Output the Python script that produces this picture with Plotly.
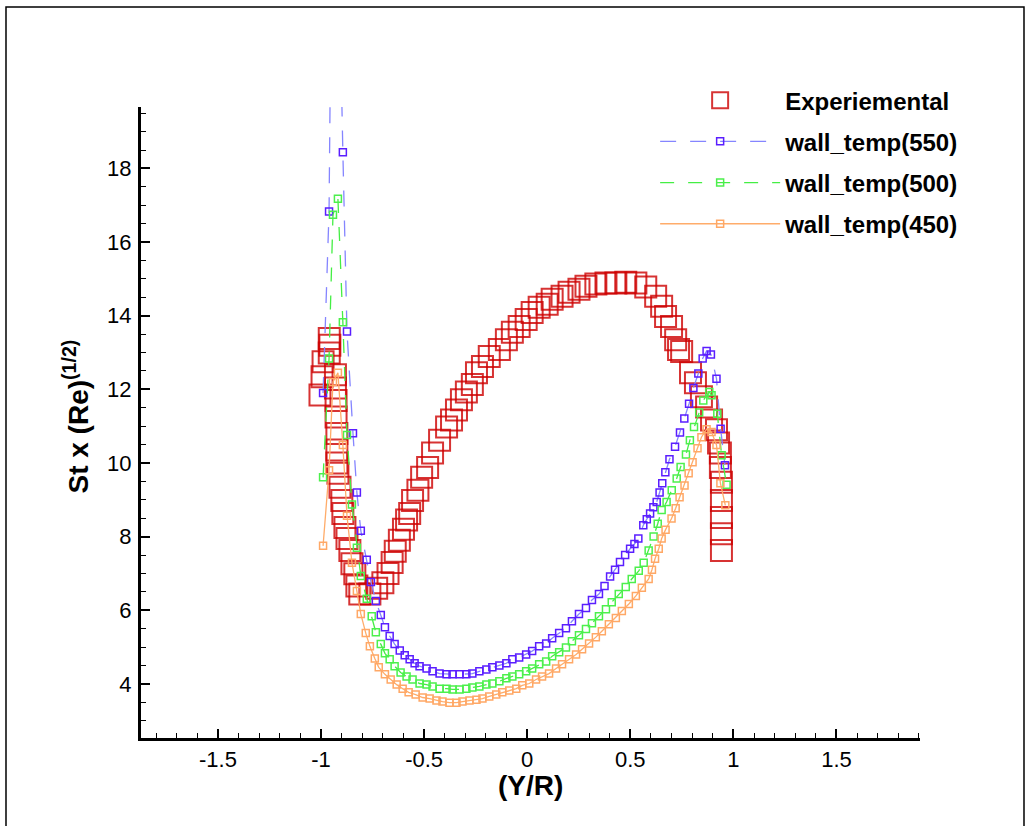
import plotly.graph_objects as go

# ---------------- data ----------------
exp_x = [-0.96, -0.957, -0.96, -0.99, -0.995, -1.005, -0.93, -0.93, -0.927, -0.927, -0.923, -0.923,
         -0.923, -0.918, -0.908, -0.899, -0.894, -0.884, -0.874, -0.86, -0.85, -0.836, -0.826, -0.812,
         -0.763, -0.73, -0.70, -0.675, -0.655, -0.64, -0.62, -0.60, -0.585, -0.57, -0.556, -0.53, -0.512,
         -0.483, -0.459, -0.425, -0.391, -0.367, -0.343, -0.319, -0.295, -0.266, -0.246, -0.217, -0.184,
         -0.135, -0.101, -0.072, -0.039, -0.005, 0.024, 0.058, 0.097, 0.121, 0.169, 0.203, 0.251, 0.285,
         0.333, 0.382, 0.43, 0.478, 0.527, 0.575, 0.623, 0.652, 0.671, 0.70, 0.72, 0.734, 0.749, 0.792,
         0.816, 0.845, 0.87, 0.894, 0.918, 0.928, 0.937, 0.937, 0.942, 0.942, 0.942, 0.942, 0.942]
exp_y = [13.38, 13.2, 12.99, 12.75, 12.34, 11.85, 12.4, 12.04, 11.7, 11.25, 10.8, 10.35,
         10.0, 9.72, 9.34, 8.98, 8.63, 8.25, 7.95, 7.62, 7.26, 6.99, 6.66, 6.44,
         6.44, 6.6, 6.75, 7.0, 7.3, 7.6, 7.9, 8.2, 8.45, 8.63, 8.98, 9.26, 9.61,
         9.88, 10.27, 10.62, 10.98, 11.17, 11.44, 11.72, 11.93, 12.13, 12.45, 12.62, 12.89,
         13.08, 13.35, 13.55, 13.71, 13.9, 14.09, 14.23, 14.31, 14.45, 14.53, 14.64, 14.72, 14.8,
         14.86, 14.89, 14.89, 14.91, 14.89, 14.78, 14.53, 14.26, 13.98, 13.71, 13.35, 13.08, 13.03, 12.45,
         12.18, 11.8, 11.52, 11.17, 10.9, 10.54, 10.27, 9.88, 9.48, 8.98, 8.52, 8.08, 7.62]

t550_x = [-0.99, -0.961, -0.942, -0.918, -0.894, -0.874, -0.845, -0.826, -0.807, -0.778, -0.758, -0.734,
          -0.71, -0.69, -0.667, -0.643, -0.618, -0.594, -0.57, -0.546, -0.522, -0.488, -0.459, -0.425,
          -0.391, -0.362, -0.328, -0.295, -0.266, -0.232, -0.198, -0.169, -0.135, -0.101, -0.072, -0.039,
          -0.005, 0.024, 0.058, 0.092, 0.121, 0.155, 0.188, 0.217, 0.251, 0.285, 0.314, 0.348, 0.375,
          0.402, 0.426, 0.45, 0.475, 0.499, 0.52, 0.539, 0.563, 0.58, 0.596, 0.612, 0.628, 0.642, 0.655,
          0.67, 0.69, 0.717, 0.741, 0.762, 0.785, 0.806, 0.83, 0.851, 0.87, 0.891, 0.918, 0.938, 0.959]
t550_y = [11.9, 16.83, 28.5, 25.0, 18.44, 13.57, 10.81, 9.2, 8.16, 7.37, 6.77, 6.25,
          5.87, 5.54, 5.3, 5.08, 4.91, 4.78, 4.67, 4.56, 4.48, 4.42, 4.34, 4.28,
          4.26, 4.26, 4.26, 4.26, 4.28, 4.34, 4.39, 4.45, 4.5, 4.56, 4.67, 4.72,
          4.8, 4.89, 5.02, 5.1, 5.24, 5.38, 5.51, 5.7, 5.9, 6.06, 6.28, 6.44, 6.66,
          6.92, 7.1, 7.31, 7.5, 7.67, 7.8, 7.95, 8.31, 8.47, 8.63, 8.8, 8.94, 9.2, 9.45,
          9.75, 10.1, 10.44, 10.83, 11.21, 11.61, 12.04, 12.43, 12.84, 13.04, 12.95, 12.29, 10.93, 9.94]

t500_x = [-0.99, -0.961, -0.942, -0.918, -0.894, -0.874, -0.85, -0.826, -0.807, -0.778, -0.754, -0.734,
          -0.71, -0.69, -0.667, -0.643, -0.614, -0.585, -0.556, -0.522, -0.488, -0.459, -0.425, -0.391,
          -0.362, -0.328, -0.295, -0.266, -0.232, -0.198, -0.169, -0.135, -0.101, -0.072, -0.039, -0.005,
          0.024, 0.058, 0.092, 0.121, 0.155, 0.188, 0.217, 0.251, 0.285, 0.314, 0.348, 0.382, 0.41,
          0.444, 0.478, 0.507, 0.541, 0.565, 0.589, 0.613, 0.633, 0.652, 0.676, 0.701, 0.725, 0.744,
          0.77, 0.789, 0.809, 0.834, 0.854, 0.883, 0.894, 0.922, 0.943, 0.967]
t500_y = [9.61, 12.84, 16.74, 17.18, 13.82, 10.76, 8.87, 7.7, 6.93, 6.31, 5.84, 5.4,
          5.08, 4.83, 4.67, 4.48, 4.31, 4.2, 4.12, 4.01, 3.98, 3.93, 3.87, 3.87,
          3.85, 3.85, 3.87, 3.9, 3.93, 3.98, 4.01, 4.07, 4.15, 4.2, 4.26, 4.34,
          4.42, 4.53, 4.61, 4.75, 4.86, 4.99, 5.16, 5.32, 5.49, 5.65, 5.84, 6.03, 6.22,
          6.44, 6.63, 6.85, 7.07, 7.29, 7.62, 8.0, 8.35, 8.72, 8.94, 9.26, 9.58, 9.89,
          10.23, 10.62, 10.98, 11.37, 11.7, 11.93, 11.84, 11.34, 10.21, 9.41]

t450_x = [-0.99, -0.961, -0.942, -0.918, -0.894, -0.874, -0.85, -0.826, -0.807, -0.783, -0.763, -0.739,
          -0.72, -0.69, -0.662, -0.633, -0.604, -0.575, -0.541, -0.507, -0.473, -0.44, -0.411, -0.377,
          -0.343, -0.314, -0.28, -0.246, -0.217, -0.184, -0.15, -0.121, -0.087, -0.053, -0.024, 0.01,
          0.043, 0.072, 0.106, 0.14, 0.169, 0.203, 0.237, 0.266, 0.3, 0.333, 0.362, 0.396, 0.43, 0.459,
          0.493, 0.527, 0.556, 0.589, 0.605, 0.62, 0.638, 0.652, 0.671, 0.70, 0.72, 0.739, 0.763, 0.783,
          0.802, 0.826, 0.845, 0.87, 0.894, 0.918, 0.937, 0.961]
t450_y = [7.75, 9.8, 12.2, 12.45, 10.49, 8.57, 7.29, 6.52, 5.9, 5.38, 5.02, 4.69,
          4.45, 4.26, 4.12, 3.98, 3.87, 3.77, 3.71, 3.63, 3.6, 3.55, 3.52, 3.49,
          3.49, 3.52, 3.55, 3.57, 3.6, 3.66, 3.71, 3.77, 3.82, 3.87, 3.96, 4.01,
          4.12, 4.2, 4.28, 4.42, 4.53, 4.67, 4.8, 4.94, 5.1, 5.27, 5.43, 5.62, 5.79, 5.98,
          6.17, 6.39, 6.61, 6.85, 7.1, 7.4, 7.67, 7.95, 8.19, 8.49, 8.77, 9.07, 9.39, 9.72,
          10.02, 10.4, 10.7, 10.92, 10.84, 10.49, 9.45, 8.85]

x_tickvals = [-1.5, -1.0, -0.5, 0.0, 0.5, 1.0, 1.5]
x_ticktext = ["-1.5", "-1", "-0.5", "0", "0.5", "1", "1.5"]
y_tickvals = [4, 6, 8, 10, 12, 14, 16, 18]
y_ticktext = ["4", "6", "8", "10", "12", "14", "16", "18"]

# ---------------- figure ----------------
FONT = "Liberation Sans, Arial, sans-serif"
fig = go.Figure()

fig.add_trace(go.Scatter(
    x=exp_x, y=exp_y, mode="markers", name="Experiemental", legendgroup="a",
    marker=dict(symbol="square-open", size=21, color="rgba(205,0,0,0.8)",
                line=dict(width=2, color="rgba(205,0,0,0.8)"))))

fig.add_trace(go.Scatter(
    x=t550_x, y=t550_y, mode="lines+markers", name="wall_temp(550)", legendgroup="b",
    line=dict(color="#8585ff", width=1.3, dash="16px,14px"),
    marker=dict(symbol="square-open", size=7, color="#5a1eff", line=dict(width=1.5, color="#5a1eff"))))

fig.add_trace(go.Scatter(
    x=t500_x, y=t500_y, mode="lines+markers", name="wall_temp(500)", legendgroup="c",
    line=dict(color="#44ee44", width=1.3, dash="14px,14px"),
    marker=dict(symbol="square-open", size=7, color="#4cf04c", line=dict(width=1.5, color="#4cf04c"))))

fig.add_trace(go.Scatter(
    x=t450_x, y=t450_y, mode="lines+markers", name="wall_temp(450)", legendgroup="d",
    line=dict(color="#ffac6a", width=1.3),
    marker=dict(symbol="square-open", size=7, color="#ffa866", line=dict(width=1.5, color="#ffa866"))))

axis_common = dict(
    showline=True, linecolor="black", linewidth=3, showgrid=False, zeroline=False,
    ticks="inside", ticklen=9, tickwidth=2, tickcolor="black",
    tickfont=dict(family=FONT, size=22, color="black"), tickmode="array",
)

fig.update_xaxes(range=[-1.873, 1.905], tickvals=x_tickvals, ticktext=x_ticktext,
                 minor=dict(ticks="inside", ticklen=5, tickwidth=1, tickcolor="black",
                            tickmode="linear", tick0=0, dtick=0.1),
                 **axis_common)
fig.update_yaxes(range=[2.53, 19.67], tickvals=y_tickvals, ticktext=y_ticktext,
                 minor=dict(ticks="inside", ticklen=5, tickwidth=1, tickcolor="black",
                            tickmode="linear", tick0=0, dtick=0.5),
                 ticklabelstandoff=2,
                 **axis_common)

fig.add_annotation(text="<b>(Y/R)</b>", xref="paper", yref="paper", x=0.5, y=-0.0745,
                   xanchor="center", yanchor="middle", showarrow=False,
                   font=dict(family=FONT, size=28, color="black"))
fig.add_annotation(text="<b>St x (Re)<sup>(1/2)</sup></b>", xref="paper", yref="paper",
                   x=-0.083, y=0.51, xanchor="center", yanchor="middle", textangle=-90,
                   showarrow=False, font=dict(family=FONT, size=28, color="black"))

fig.add_shape(type="rect", xref="paper", yref="paper", x0=-0.1733, x1=1.1335, y0=-0.146, y1=1.1585,
              line=dict(color="black", width=1.5), layer="below")

fig.update_layout(
    width=1034, height=826,
    margin=dict(l=141, r=114, t=107, b=88, autoexpand=False),
    paper_bgcolor="white", plot_bgcolor="white",
    showlegend=True,
    legend=dict(x=0.66, y=1.0459, xanchor="left", yanchor="top",
                bgcolor="rgba(0,0,0,0)", itemwidth=120, tracegroupgap=7,
                font=dict(family=FONT, size=24, color="black", weight="bold")),
)

fig.write_html("out.html")
